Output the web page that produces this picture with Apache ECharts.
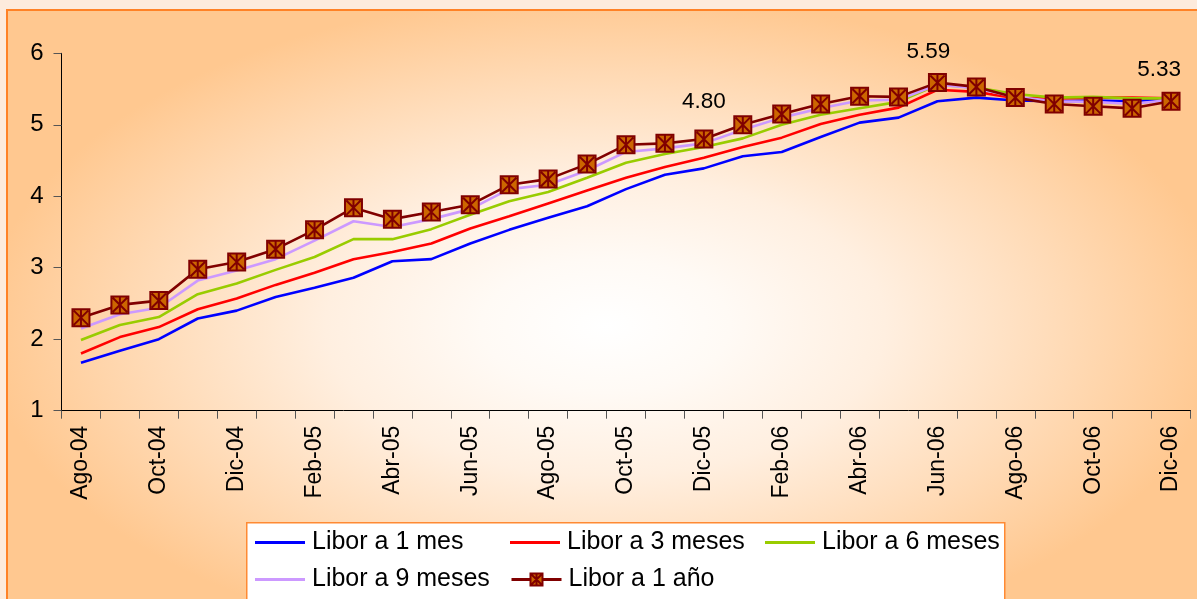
<!DOCTYPE html>
<html>
<head>
<meta charset="utf-8">
<script src="https://cdn.jsdelivr.net/npm/echarts@6/dist/echarts.min.js"></script>
<style>
html,body{margin:0;padding:0;background:#fdebdc;width:1197px;height:599px;overflow:hidden;}
#bg{position:absolute;left:6px;top:9px;width:1195px;height:594px;border-left:2px solid #ff8226;border-top:2px solid #ff8226;
background:radial-gradient(ellipse 52% 56% at 50% 53%, #ffffff 0%, #fffaf5 20%, #ffefe0 45%, #ffdab5 75%, #ffc890 100%);}
#chart{position:absolute;left:0;top:0;width:1197px;height:599px;}
</style>
</head>
<body>
<div id="bg"></div>
<div id="chart"></div>
<script>
const categories = ['Ago-04','Sep-04','Oct-04','Nov-04','Dic-04','Ene-05','Feb-05','Mar-05','Abr-05','May-05','Jun-05','Jul-05','Ago-05','Sep-05','Oct-05','Nov-05','Dic-05','Ene-06','Feb-06','Mar-06','Abr-06','May-06','Jun-06','Jul-06','Ago-06','Sep-06','Oct-06','Nov-06','Dic-06'];
const libor1m = [1.67,1.84,2.00,2.29,2.40,2.59,2.72,2.86,3.09,3.12,3.34,3.53,3.70,3.86,4.10,4.30,4.39,4.56,4.62,4.83,5.03,5.10,5.33,5.38,5.34,5.33,5.34,5.33,5.37];
const libor3m = [1.80,2.03,2.17,2.42,2.57,2.76,2.93,3.12,3.22,3.34,3.55,3.72,3.90,4.08,4.26,4.41,4.54,4.69,4.82,5.01,5.14,5.24,5.49,5.46,5.37,5.37,5.38,5.38,5.37];
const libor6m = [1.99,2.20,2.31,2.63,2.78,2.97,3.15,3.40,3.40,3.54,3.74,3.93,4.06,4.26,4.47,4.59,4.69,4.81,5.00,5.14,5.23,5.32,5.56,5.52,5.43,5.38,5.39,5.37,5.37];
const libor9m = [2.15,2.35,2.44,2.82,2.96,3.12,3.38,3.65,3.57,3.68,3.82,4.10,4.16,4.36,4.62,4.67,4.74,4.93,5.10,5.23,5.34,5.35,5.56,5.51,5.39,5.33,5.32,5.29,5.35];
const libor1a = [2.30,2.48,2.54,2.98,3.08,3.26,3.53,3.84,3.68,3.78,3.88,4.16,4.24,4.45,4.72,4.74,4.80,5.00,5.15,5.29,5.40,5.39,5.59,5.53,5.38,5.29,5.26,5.23,5.33];
const labelled = {16: [0, -6], 22: [-9, 0], 28: [-12, 0]};
const yTicks = {min: 1, max: 6, interval: 1};
const seriesNames = ['Libor a 1 mes','Libor a 3 meses','Libor a 6 meses','Libor a 9 meses','Libor a 1 año'];

const chart = echarts.init(document.getElementById('chart'), null, {renderer: 'canvas'});
const font = 'Liberation Sans, Arial, sans-serif';
const markerPath = 'path://M0,0 L100,0 L100,100 L0,100 Z M8,8 L92,92 M92,8 L8,92 M50,4 L50,96';

function lineSeries(name, data, color, extra) {
  return Object.assign({
    name: name, type: 'line', data: data, symbol: 'none', silent: true,
    lineStyle: {color: color, width: 2.6}, itemStyle: {color: color},
    emphasis: {disabled: true}, animation: false
  }, extra || {});
}

const yearData = libor1a.map((v, i) => {
  if (labelled[i]) {
    return {value: v, label: {show: true, position: 'top', distance: 10, offset: labelled[i],
      formatter: v.toFixed(2), fontSize: 22.5, color: '#000', fontFamily: font}};
  }
  return v;
});

function legendAt(name, left, top, plainLine) {
  const l = {data: [name], left: left, top: top, padding: 0, itemWidth: 50, itemHeight: 15,
    textStyle: {fontSize: 25, color: '#000', fontFamily: font, padding: [0,0,0,2]},
    selectedMode: false, orient: 'horizontal'};
  if (plainLine) {
    l.data = [{name: name, icon: 'rect'}];
    l.itemHeight = 3;
  } else {
    l.lineStyle = {width: 3};
  }
  return l;
}

chart.setOption({
  backgroundColor: 'transparent',
  animation: false,
  graphic: [{type: 'rect', left: 246, top: 522, shape: {width: 758, height: 90},
    style: {fill: '#ffffff', stroke: '#ff8a33', lineWidth: 1.5}, z: -1, silent: true}],
  legend: [
    legendAt(seriesNames[0], 255, 530, true),
    legendAt(seriesNames[1], 510, 530, true),
    legendAt(seriesNames[2], 765, 530, true),
    legendAt(seriesNames[3], 255, 567, true),
    legendAt(seriesNames[4], 510, 567, false)
  ],
  grid: {left: 61.5, right: 6.5, top: 53.3, bottom: 188.3, containLabel: false},
  xAxis: {
    type: 'category', data: categories, boundaryGap: true,
    axisLine: {lineStyle: {color: '#000', width: 1}},
    axisTick: {show: true, interval: 0, length: 8, lineStyle: {color: '#555'}},
    axisLabel: {interval: 1, rotate: 90, margin: 15, fontSize: 23, color: '#000', fontFamily: font},
    splitLine: {show: false}
  },
  yAxis: {
    type: 'value', min: yTicks.min, max: yTicks.max, interval: yTicks.interval,
    axisLine: {show: true, lineStyle: {color: '#000', width: 1}},
    axisTick: {show: true, inside: false, length: 8, lineStyle: {color: '#555'}},
    axisLabel: {margin: 18, fontSize: 24, color: '#000', fontFamily: font},
    splitLine: {show: false}
  },
  series: [
    lineSeries(seriesNames[0], libor1m, '#0000ff'),
    lineSeries(seriesNames[1], libor3m, '#ff0000'),
    lineSeries(seriesNames[2], libor6m, '#99cc00'),
    lineSeries(seriesNames[3], libor9m, '#cc99ff'),
    lineSeries(seriesNames[4], yearData, '#800000', {
      symbol: markerPath, symbolSize: 17, showSymbol: true,
      itemStyle: {color: '#cc6600', borderColor: '#800000', borderWidth: 2},
      lineStyle: {color: '#800000', width: 2.6}
    })
  ]
});
</script>
</body>
</html>
